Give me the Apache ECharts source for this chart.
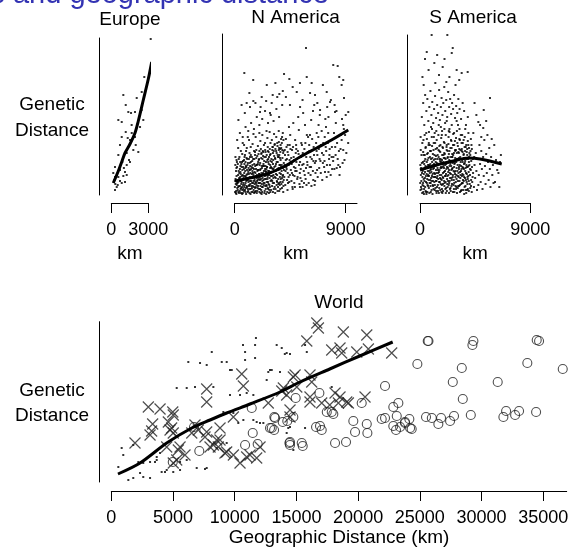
<!DOCTYPE html>
<html>
<head>
<meta charset="utf-8">
<title>Genetic and geographic distance</title>
<script src="https://cdn.jsdelivr.net/npm/echarts@6/dist/echarts.min.js"></script>
<style>
  html, body { margin: 0; padding: 0; background: #fff; }
  #chart { width: 584px; height: 557px; }
</style>
</head>
<body>
<div id="chart"></div>
<script>
// x values in km, y values in relative genetic distance units (no scale shown)

// Europe panel
const europePoints = [
  [3195,156],[2675,118],[2465,103],[2060,97],[975,100],[1170,90],[1380,83],[1600,82],[1920,83],
  [570,75],[845,73],[2595,75],[2330,68],[1170,63],[1655,62],[845,58],[1920,58],[1330,57],[1515,55],
  [705,50],[1980,50],[1785,45],[2190,43],[570,40],[1250,42],[1435,35],[890,33],[1515,33],[300,28],
  [705,25],[1250,30],[1110,23],[300,18],[570,18],[975,19],[1250,20],[245,15],[705,14],[325,11],
  [845,12],[440,8],[300,5],[1110,13],[160,22],[1355,47],[2460,85],[1650,70],[520,10],[1020,27]
];
const europeFit = [[160,12],[570,24],[900,35],[1110,42],[1515,51],[1920,62],[2190,74],[2595,95],[3000,116],[3275,133]];

// North America panel
const nAmericaPoints = [
  [30,3],[90,11],[120,4],[150,19],[190,28],[210,7],[230,12],[260,15],[300,3],[340,9],[370,22],[420,26],
  [450,18],[480,6],[510,2],[540,31],[560,13],[600,8],[620,25],[660,2],[700,6],[720,17],[730,19],[760,35],
  [790,31],[820,10],[850,24],[880,12],[910,7],[940,28],[960,20],[990,15],[1010,36],[1050,3],[1090,15],
  [1100,23],[1130,27],[1160,9],[1180,10],[1210,32],[1230,18],[1250,29],[1280,1],[1310,33],[1350,14],
  [1380,21],[1400,7],[1440,30],[1480,22],[1500,12],[1530,5],[1560,26],[1600,17],[1620,11],[1640,3],
  [1660,29],[1700,19],[1710,8],[1750,37],[1790,2],[1820,14],[1840,24],[1870,31],[1890,9],[1900,33],
  [1930,18],[1960,16],[2000,21],[2020,30],[2050,6],[2070,12],[2100,26],[2150,5],[2150,37],[2180,1],
  [2210,27],[2240,14],[2260,17],[2300,39],[2310,22],[2350,10],[2390,34],[2430,4],[2450,19],[2480,9],
  [2500,29],[2540,23],[2550,1],[2570,26],[2600,13],[2620,20],[2650,35],[2680,7],[2700,13],[2720,6],
  [2760,31],[2790,24],[2810,10],[2830,17],[2860,40],[2890,3],[2920,22],[2940,28],[2980,15],[3010,33],
  [3050,45],[3060,19],[3090,12],[3120,35],[3150,26],[3170,6],[3200,39],[3240,8],[3280,2],[3300,29],
  [3330,17],[3350,21],[3380,25],[3400,42],[3420,14],[3460,26],[3490,33],[3510,8],[3540,11],[3570,38],
  [3610,4],[3640,22],[3660,18],[3680,30],[3710,13],[3730,16],[3760,28],[3800,24],[3830,7],[3870,37],
  [3890,13],[3920,20],[3950,9],[3980,32],
  [15,8],[70,16],[105,24],[135,1],[170,10],[245,5],[275,20],[310,13],[355,2],[395,16],[435,9],[465,23],
  [495,14],[525,7],[575,19],[605,1],[640,15],[680,10],[745,4],[775,22],[805,16],[835,5],[865,27],[895,18],
  [925,1],[975,9],[1000,25],[1030,17],[1070,6],[1115,13],[1145,21],[1195,2],[1220,25],[1265,11],[1295,6],
  [1330,26],[1365,3],[1415,18],[1455,9],[1470,27],[1515,20],[1545,14],[1580,2],[1615,23],[1655,7],
  [1685,13],[1725,26],[1765,10],[1805,20],[1830,4],[1860,15],[1915,25],[1945,6],[1985,12],[2010,3],
  [2035,18],[2060,25],[2090,9],[2125,16],[2170,22],[2195,11],[2225,3],[2275,8],[2290,29],[2325,15],
  [2370,24],[2410,2],[2420,12],[2465,26],[2515,6],[2530,16],[2590,9],[2610,28],[2640,3],[2665,18],
  [2710,24],[2745,11],[2775,2],[2800,20],[2850,8],[2875,27],[2905,14],[2955,5],[2970,23],[3030,9],
  [3075,26],[3100,3],[3135,17],[3185,12],[3215,24],[3260,18],[3315,6],[3345,31],[3395,10],[3435,20],
  [3475,4],[3525,16],[3555,27],[3595,12],[3625,30],[3695,6],[3745,21],[3785,11],[3845,17],[3905,27],
  [3935,3],[3970,15],
  [45,14],[95,2],[140,27],[200,12],[255,31],[290,8],[320,24],[365,17],[410,4],[440,33],[490,21],[530,11],
  [570,28],[615,5],[645,20],[675,34],[710,12],[740,26],[770,8],[800,38],[845,19],[875,3],[905,29],[935,14],
  [965,37],[1000,8],[1025,21],[1065,32],[1095,4],[1120,17],[1150,36],[1185,25],[1215,6],[1245,14],
  [1275,22],[1305,40],[1340,9],[1370,28],[1410,12],[1435,24],[1465,3],[1495,36],[1525,18],[1555,8],
  [1585,31],[1615,15],[1645,43],[1675,22],[1705,4],[1735,12],[1770,30],[1800,17],[1825,39],[1855,7],
  [1885,25],[1920,12],[1950,35],[1975,21],[2005,44],[2040,15],[2065,32],[2095,2],[2130,20],[2160,41],
  [2190,29],[2220,8],[2250,36],[2280,21],[2315,43],[2345,12],[2380,29],[2405,38],[2440,16],[2470,45],
  [2505,24],[2535,33],[2560,10],[2595,40],[2625,28],[2655,16],[2690,44],[2715,33],[2750,20],[2780,38],
  [2815,5],[2845,46],[2880,30],[2910,41],[2945,19],[2975,36],[3005,27],[3040,14],[3070,48],[3105,31],
  [3140,20],[3165,44],[3210,28],[3250,51],[3290,36],[3320,24],[3360,44],[3405,33],[3440,13],[3470,49],
  [3505,38],[3545,25],[3580,53],[3615,40],[3650,10],[3690,46],[3720,35],[3770,47],[3810,30],[3840,58],
  [3880,19],[3930,42],[3990,25],[4060,45],[4140,35],[4210,26],[4290,43],[4370,18],[4460,50],[4540,33],
  [4640,22],[4730,48],[4820,35],[4910,24],[4990,46],
  [50,30],[180,33],[330,36],[470,29],[610,41],[690,28],[870,33],[1040,30],[1240,38],[1420,34],[1590,36],
  [1780,30],[1980,36],[2170,42],[2330,31],[2520,38],[2720,36],[2900,34],[3100,42],[3270,37],[3480,40],
  [3680,37],[3860,45],
  [60,38],[150,35],[280,47],[380,38],[500,44],[590,33],[650,52],[760,50],[830,40],[920,44],[980,47],
  [1060,58],[1160,55],[1200,42],[1300,48],[1390,38],[1450,51],[1520,61],[1570,44],[1650,40],[1700,58],
  [1750,45],[1880,49],[1930,41],[2000,62],[2080,54],[2120,46],[2240,60],[2280,44],[2370,50],[2460,52],
  [2500,43],[2580,64],[2650,57],[2680,48],[2750,43],[2830,63],[2900,52],[3010,55],[3080,48],[3190,61],
  [3230,50],[3300,46],[3370,58],[3450,52],[3570,64],[3600,47],[3700,43],[3760,56],[3820,52],[3900,62],
  [3960,44],
  [200,55],[300,75],[420,62],[560,90],[650,58],[780,122],[820,82],[880,68],[970,92],[1100,64],[1190,102],
  [1240,88],[1330,72],[1510,94],[1560,66],[1680,92],[1790,78],[2000,70],[2050,83],[2100,88],[2190,98],
  [2230,76],[2460,84],[2550,94],[2700,72],[2860,82],[2920,80],[3000,92],[3080,100],[3150,74],[3380,86],
  [3450,98],[3600,78],[3620,101],[3850,90],[3900,104],[4000,121],
  [4050,30],[4100,10],[4150,56],[4200,48],[4250,15],[4300,22],[4350,40],[4400,68],[4450,35],[4500,60],
  [4550,25],[4600,14],[4650,45],[4700,6],[4750,72],[4800,28],[4850,19],[4900,55],[4950,42],[5000,33],
  [5050,36],[5100,18],[5150,78],[5200,65],[5250,11],[5290,8],[5300,33],[5350,26],[5400,52],[5450,50],
  [5500,8],[5550,82],[5600,24],[5650,46],[5700,70],[5750,16],[5800,38],[5850,60],[5900,30],[5950,58],
  [6000,12],[6050,44],[6100,60],[6150,20],[6200,75],[6250,36],[6300,45],[6370,15],[6400,48],[6450,90],
  [6500,32],[6550,22],[6600,52],[6650,62],[6700,40],[6800,70],[6850,27],[6900,80],[6950,34],[7000,50],
  [7050,64],[7100,15],[7200,40],[7250,28],[7300,58],[7320,23],[7350,76],[7400,68],[7460,18],[7500,88],
  [7550,52],[7600,23],[7650,36],[7700,46],[7800,55],[7860,38],[7900,26],[8000,38],[8050,62],[8100,90],
  [8200,72],[8250,84],[8270,27],[8300,52],[8400,30],[8450,44],[8500,20],[8540,28],[8600,60],[8700,76],
  [8800,45],[8850,66],[8900,35],[8950,60],[9000,80],[9200,52],
  [4120,24],[4280,5],[4420,13],[4580,37],[4720,20],[4880,8],[5020,24],[5180,41],[5330,17],[5480,30],
  [5620,12],[5780,27],[5920,43],[6080,28],[6220,9],[6380,34],[6520,14],[6680,25],[6820,46],[7150,32],
  [7420,44],[7720,30],[8150,48],
  [4020,18],[4080,40],[4180,28],[4230,36],[4320,12],[4380,30],[4470,20],[4520,46],[4620,31],[4680,8],
  [4780,38],[4830,12],[4920,27],[4980,50],[5070,16],[5120,44],[5220,30],[5280,22],[5380,38],[5430,14],
  [5520,42],[5580,31],[5680,20],[5730,52],[5820,10],[5880,33],[5980,22],[6040,50],[6130,38],[6190,28],
  [6280,56],[6340,24],[6430,40],[6480,10],[6580,34],[6640,44],[6730,18],[6780,58],[6880,36],[6980,22],
  [7080,42],[7180,52],[7280,34],[7380,48],[7480,30],[7580,62],[7680,40],[7780,20],[7880,48],[7980,34],
  [8080,26],[8180,40],[8350,36],[8580,46],[8750,32],[9050,42],[3580,45],[3720,50],[3950,55],[4300,50],
  [4430,116],[4480,90],[5030,103],[5290,112],[5780,147],[5840,118],[6110,102],[6240,112],[6510,100],
  [6920,85],[7460,103],[7730,93],[7990,130],[8130,83],[8350,129],[8480,118],[8670,110],[8800,115],
  [8860,97],[9210,83],[8800,70],[8670,55],[7800,95],[4150,98],[4700,108],[5500,95],[6700,92],[7150,110],
  [3300,112],[2600,110],[1500,115],[7600,78],[6350,84],[5300,88]
];
const nAmericaFit = [[25,14],[1240,17],[2590,21],[3940,28],[5290,38],[6650,47],[7990,56],[9210,65]];

// South America panel
const sAmericaPoints = [
  [40,5],[110,14],[180,2],[220,24],[290,9],[340,31],[400,17],[460,4],[510,27],[560,12],[620,35],[670,20],
  [720,7],[780,29],[830,15],[880,3],[930,23],[990,33],[1040,10],[1090,18],[1140,27],[1190,5],[1240,36],
  [1290,14],[1340,22],[1390,8],[1440,30],[1490,16],[1540,2],[1590,25],[1640,34],[1690,11],[1740,20],
  [1790,6],[1840,28],[1890,17],[1940,37],[1990,9],[2040,24],[2090,13],[2140,31],[2190,4],[2240,19],
  [2290,27],[2340,10],[2390,35],[2440,22],[2490,7],[2540,29],[2590,15],[2640,38],[2690,3],[2740,24],
  [2790,12],[2840,32],[2890,18],[2940,6],[2990,27],[3040,36],[3090,14],[3140,22],[3190,9],[3240,30],
  [3290,17],[3340,4],[3390,26],[3440,35],[3490,12],[3540,20],[3590,31],[3640,8],[3690,24],[3740,15],
  [3790,36],[3840,5],[3890,28],[3940,19],[3990,33],[4060,11],[4140,25],[4220,3],[4290,18],
  [70,20],[150,32],[250,12],[320,1],[380,26],[430,36],[490,13],[540,21],[600,3],[650,30],[700,15],
  [750,24],[810,38],[860,9],[910,17],[960,28],[1020,1],[1070,26],[1120,35],[1170,13],[1220,21],[1270,29],
  [1320,4],[1370,32],[1420,19],[1470,25],[1520,38],[1570,7],[1620,13],[1670,27],[1720,33],[1770,15],
  [1820,2],[1870,22],[1920,29],[1970,14],[2020,37],[2070,6],[2120,21],[2170,33],[2220,11],[2270,38],
  [2320,20],[2370,2],[2420,14],[2470,31],[2520,21],[2570,9],[2620,26],[2670,18],[2720,33],[2770,6],
  [2820,23],[2870,37],[2920,13],[2970,20],[3020,2],[3070,30],[3120,9],[3170,37],[3220,14],[3270,23],
  [3320,33],[3370,11],[3420,19],[3470,28],[3520,5],[3570,14],[3620,37],[3670,17],[3720,27],[3770,2],
  [3820,21],[3870,11],[3920,36],[3970,23],[4030,30],[4100,7],[4180,34],[4260,13],
  [20,12],[90,27],[130,6],[200,18],[240,33],[270,3],[310,21],[360,14],[390,40],[420,8],[445,29],[480,19],
  [525,1],[555,33],[590,16],[635,24],[660,9],[690,37],[735,19],[765,2],[795,22],[845,31],[870,12],[895,26],
  [945,5],[975,19],[1010,37],[1055,14],[1080,30],[1105,6],[1155,22],[1180,40],[1210,10],[1255,18],
  [1280,33],[1305,25],[1350,2],[1380,17],[1410,36],[1455,10],[1480,22],[1505,31],[1555,13],[1580,44],
  [1610,20],[1655,5],[1680,36],[1705,16],[1755,27],[1780,10],[1810,40],[1855,18],[1880,4],[1905,33],
  [1955,23],[1980,42],[2010,12],[2055,30],[2080,19],[2105,2],[2155,26],[2180,45],[2210,16],[2255,8],
  [2280,32],[2305,23],[2355,41],[2380,12],[2405,29],[2455,17],[2480,38],[2505,4],[2555,25],[2580,47],
  [2610,11],[2655,32],[2680,20],[2705,40],[2755,15],[2780,28],[2805,3],[2855,21],[2880,44],[2905,9],
  [2955,33],[2980,16],[3005,42],[3055,24],[3080,7],[3105,36],[3155,18],[3180,28],[3205,46],[3255,10],
  [3280,38],[3305,20],[3355,29],[3380,5],[3405,44],[3455,21],[3480,33],[3505,15],[3555,40],[3580,26],
  [3605,1],[3655,32],[3680,44],[3705,9],[3755,22],[3780,30],[3805,13],[3855,40],[3880,18],[3905,6],
  [3955,29],[3980,14],[4010,38],[4080,20],[4120,44],[4160,9],[4240,28],[4310,36],
  [30,30],[80,8],[120,40],[165,22],[205,10],[260,43],[300,16],[335,6],[370,34],[410,23],[450,47],[500,3],
  [545,28],[580,41],[615,10],[655,19],[700,50],[740,30],[785,12],[820,44],[855,25],[900,36],[940,14],
  [985,49],[1030,21],[1065,9],[1100,45],[1145,31],[1200,18],[1235,52],[1265,7],[1300,39],[1345,14],
  [1395,47],[1430,27],[1465,4],[1510,45],[1545,23],[1590,36],[1635,17],[1665,50],[1715,28],[1750,3],
  [1795,35],[1835,48],[1875,11],[1915,40],[1960,27],[2000,52],[2045,19],[2085,36],[2130,7],[2165,48],
  [2205,28],[2245,37],[2290,14],[2320,51],[2365,25],[2400,44],[2445,6],[2490,34],[2530,55],[2575,17],
  [2615,38],[2650,27],[2695,50],[2735,10],[2770,42],[2810,31],[2850,54],[2890,24],[2930,45],[2970,8],
  [3010,36],[3050,52],[3095,19],[3130,43],[3175,26],[3215,56],[3260,3],[3300,45],[3345,24],[3390,52],
  [3430,12],[3475,43],[3520,27],[3560,55],[3600,18],[3640,48],[3685,34],[3725,5],[3770,50],[3810,28],
  [3850,46],[3895,16],[3940,50],[3985,4],[4030,42],[4090,26],[4170,15],[4230,46],[4330,22],[4420,38],
  [50,58],[280,55],[510,62],[720,52],[980,66],[1130,58],[1330,64],[1530,70],[1780,60],[1990,66],
  [2180,74],[2350,64],[2590,70],[2780,62],[2990,74],[3220,66],[3440,60],[3690,66],[3950,62],[4150,56],
  [60,45],[190,52],[300,40],[380,60],[470,48],[560,56],[640,42],[730,63],[800,50],[890,44],[960,58],
  [1050,41],[1120,52],[1200,62],[1280,46],[1360,55],[1440,40],[1500,60],[1580,49],[1650,43],[1730,57],
  [1800,64],[1870,47],[1950,53],[2020,41],[2100,60],[2180,50],[2250,44],[2330,58],[2410,63],[2480,47],
  [2560,54],[2630,41],[2710,61],[2790,50],[2860,45],[2940,57],[3010,64],[3090,49],[3170,42],[3250,55],
  [3330,60],[3410,46],[3490,52],[3570,41],[3650,58],[3730,48],[3810,43],[3900,54],[4000,47],[4100,40],
  [4200,50],[2400,66],[1700,68],[3100,70],[900,68],[2050,72],
  [150,78],[260,92],[350,70],[420,100],[520,84],[600,96],[680,74],[760,88],[850,104],[930,80],[1000,93],
  [1080,72],[1150,86],[1230,99],[1310,77],[1400,90],[1480,82],[1560,105],[1620,75],[1700,88],[1760,97],
  [1830,80],[1900,92],[1980,108],[2060,84],[2140,95],[2220,78],[2300,103],[2380,88],[2460,96],[2540,81],
  [2620,92],[2700,86],[2780,100],[2860,77],[2950,89],[3040,82],[3130,96],[3230,86],[3350,76],[3480,92],
  [3600,84],[3750,70],[3900,78],[300,110],[1250,112],[2150,113],[2900,110],
  [950,160],[2230,160],[550,143],[410,136],[1170,132],[2670,147],[2590,142],[2990,125],[3400,122],
  [3890,123],[200,118],[700,125],[1550,120],[1850,128],[2400,118],[3200,115],[1400,140],[2000,136],
  [4400,8],[4450,30],[4500,17],[4550,42],[4600,24],[4650,5],[4700,36],[4760,10],[4760,73],[4800,20],
  [4850,50],[4900,31],[4950,13],[5000,44],[5050,26],[5100,6],[5160,67],[5150,38],[5200,19],[5250,55],
  [5300,29],[5350,11],[5400,41],[5450,22],[5500,60],[5550,33],[5600,15],[5650,47],[5710,97],[5700,26],
  [5750,8],[5800,38],[5850,56],[5900,20],[5950,30],[6060,50],[6000,12],[6120,13],[6200,35],[6300,25],
  [6400,22],[6470,8],[6530,33],[6600,40],[4350,62],[4600,80],[4900,70],[5200,85],[5400,74],[4450,92],
  [5000,58]
];
const sAmericaFit = [[0,25],[1360,30],[2720,34],[3940,37],[4900,36],[6670,31]];

// World panel: three marker groups and the fitted curve
const worldDots = [
  [11720,144],[10670,137],[10840,130],[8140,130],[6240,120],[7190,119],[7730,117],[8950,120],[9350,120],
  [10840,122],[11650,124],[9620,112],[13400,137],[13810,134],[14210,129],[5300,94],[6110,94],[6780,95],
  [8270,95],[9620,87],[10430,87],[11510,87],[12860,112],[13670,110],[570,15],[1380,2],[1780,4],[2590,5],
  [3140,4],[2330,9],[1520,14],[2590,19],[3140,20],[3680,22],[4080,10],[4490,12],[5020,10],[5570,12],
  [6920,14],[7730,14],[5570,20],[6110,22],[8540,34],[9350,39],[10290,59],[10700,62],[11510,62],[12050,59],
  [14480,55],[14210,49],[14750,32],[9080,70],[9890,69],[3680,25],[3950,29],[970,27],[1780,37],[840,34],
  [2190,20],[11650,137],[14060,128],[14480,128],[13000,112],[12720,110],[12590,102],[11780,60],[12320,59],
  [14340,54],[15700,54],[17860,95],[15840,130],[15700,137],[9760,112],[10970,89],[3540,20],[4350,10],
  [7590,13]
];
const worldCrosses = [
  [10570,108],[10700,96],[7730,93],[7730,80],[3000,75],[3950,73],[4980,70],[5020,67],[4620,60],[3350,58],
  [3270,51],[1920,39],[4890,54],[5020,49],[6780,57],[7050,52],[7730,50],[6520,49],[8810,54],[9890,65],
  [12720,79],[13940,94],[14750,105],[14480,72],[4490,35],[5430,32],[5970,27],[8270,37],[8810,42],[9210,29],
  [9890,27],[10430,19],[10970,25],[11780,24],[7590,45],[5300,22],[5020,19],[8000,35],[8670,35],[9350,30],
  [11240,27],[8540,42],[4760,52],[5570,35],[3140,47],
  [16650,159],[16780,154],[15840,141],[18800,150],[20700,147],[17860,132],[18530,134],[18670,129],
  [19890,130],[20830,133],[22720,129],[14890,107],[16100,107],[16240,100],[13810,91],[15030,95],
  [14210,87],[16100,85],[16100,80],[17050,79],[18130,89],[18530,85],[18400,79],[19080,80],[19210,79],
  [20560,85],[14480,65],[12050,35],[17700,77]
];
const worldCircles = [
  [11380,74],[13210,65],[13890,60],[13000,54],[11460,49],[10840,37],[11860,38],[7130,31],[4980,20],
  [14430,39],[14940,84],[14750,65],[6700,55],[22180,96],[16860,89],[20290,79],[17460,70],[17860,70],
  [17990,68],[22850,75],[23260,79],[23130,66],[23800,60],[13270,64],[14260,61],[19610,61],[20700,58],
  [21910,63],[22180,64],[12860,54],[13190,52],[16590,55],[16910,56],[17050,52],[19750,50],[20750,49],
  [22850,56],[23070,52],[23400,55],[14480,40],[14480,37],[15430,39],[15510,36],[18130,39],[19020,40],
  [24210,54],[25640,141],[25700,141],[29340,141],[29260,137],[34470,142],[34660,141],[24800,118],
  [28400,114],[33710,119],[36580,113],[27670,100],[31310,100],[28480,83],[24150,63],[23800,59],
  [24340,53],[25500,65],[25970,64],[26720,64],[26500,58],[27450,61],[27770,66],[29130,67],[31770,65],
  [31990,71],[32720,67],[33040,71],[34420,70]
];
const worldFit = [[540,8],[2330,19],[4490,39],[6520,54],[8000,62],[9350,69],[11240,78],[13670,90],[15290,100],[17700,113],[20130,126],[22800,140]];

// tick labels
const europeTicks = [0, 3000];
const americaTicks = [0, 9000];
const worldTicks = [0, 5000, 10000, 15000, 20000, 25000, 30000, 35000];

const FONT = '"Liberation Sans", Arial, sans-serif';
const INK = '#000';

function panelGrid(left, top, width, height) {
  return { left, top, width, height, containLabel: false, outerBoundsMode: 'none' };
}

function kmAxis(gridIndex, max, ticks, offset, name, nameGap) {
  return {
    type: 'value', gridIndex, min: 0, max, offset,
    name, nameLocation: 'middle', nameGap,
    nameTextStyle: { color: INK, fontSize: 19, fontFamily: FONT },
    axisLine: { show: true, onZero: false, lineStyle: { color: INK, width: 1 } },
    axisTick: { show: true, length: 10, customValues: ticks, lineStyle: { color: INK, width: 1 } },
    axisLabel: {
      show: true, customValues: ticks, margin: 18, color: INK, fontSize: 18, fontFamily: FONT,
      formatter: (v) => String(v)
    },
    splitLine: { show: false }
  };
}

function distAxis(gridIndex, max) {
  return {
    type: 'value', gridIndex, min: 0, max, offset: 12.3, position: 'left',
    axisLine: { show: true, onZero: false, lineStyle: { color: INK, width: 1 } },
    axisTick: { show: false }, axisLabel: { show: false }, splitLine: { show: false }
  };
}

function dots(idx, data) {
  return {
    type: 'scatter', xAxisIndex: idx, yAxisIndex: idx, data,
    symbol: 'rect', symbolSize: 2, itemStyle: { color: '#000' }, clip: false, silent: true
  };
}

function fit(idx, data) {
  return {
    type: 'line', xAxisIndex: idx, yAxisIndex: idx, data, showSymbol: false, smooth: 0.3,
    lineStyle: { color: '#000', width: 3 }, clip: false, z: 5, silent: true
  };
}

function label(text, x, y, size, color) {
  return {
    type: 'text', x, y, silent: true,
    style: { text, font: size + 'px ' + FONT, fill: color || INK, align: 'center', verticalAlign: 'middle',
      textAlign: 'center', textVerticalAlign: 'middle' }
  };
}

const chart = echarts.init(document.getElementById('chart'), null, { renderer: 'canvas' });

chart.setOption({
  animation: false,
  backgroundColor: '#fff',
  grid: [
    panelGrid(111.3, 38, 37, 157),
    panelGrid(234.7, 34, 122.3, 161),
    panelGrid(420, 35, 110.3, 160),
    panelGrid(111.3, 321.7, 455.4, 160.3)
  ],
  xAxis: [
    kmAxis(0, 3000, europeTicks, 8, 'km', 41),
    kmAxis(1, 9916, americaTicks, 8, 'km', 41),
    kmAxis(2, 9000, americaTicks, 8, 'km', 41),
    kmAxis(3, 36900, worldTicks, 9, 'Geographic Distance (km)', 34.5)
  ],
  yAxis: [distAxis(0, 157), distAxis(1, 161), distAxis(2, 160), distAxis(3, 160.3)],
  graphic: [
    {
      type: 'text', x: 329, y: -5, silent: true,
      style: { text: 'Genetic and geographic distance', font: '29px ' + FONT, fill: '#3333B3',
        align: 'right', verticalAlign: 'middle', textAlign: 'right', textVerticalAlign: 'middle' }
    },
    label('Europe', 130, 20, 19),
    label('N America', 295.5, 18, 19),
    label('S America', 473, 18, 19),
    label('World', 339, 302.7, 19),
    label('Genetic', 52, 105, 19),
    label('Distance', 52, 130.5, 19),
    label('Genetic', 52, 391, 19),
    label('Distance', 52, 416, 19)
  ],
  series: [
    dots(0, europePoints), fit(0, europeFit),
    dots(1, nAmericaPoints), fit(1, nAmericaFit),
    dots(2, sAmericaPoints), fit(2, sAmericaFit),
    dots(3, worldDots),
    {
      type: 'scatter', xAxisIndex: 3, yAxisIndex: 3, data: worldCrosses, clip: false, silent: true,
      symbol: 'path://M0,0L10,10M10,0L0,10', symbolSize: 11,
      itemStyle: { color: 'none', borderColor: '#222', borderWidth: 1.2 }
    },
    {
      type: 'scatter', xAxisIndex: 3, yAxisIndex: 3, data: worldCircles, clip: false, silent: true,
      symbol: 'circle', symbolSize: 9,
      itemStyle: { color: 'none', borderColor: '#222', borderWidth: 1.1 }
    },
    fit(3, worldFit)
  ]
});
</script>
</body>
</html>
